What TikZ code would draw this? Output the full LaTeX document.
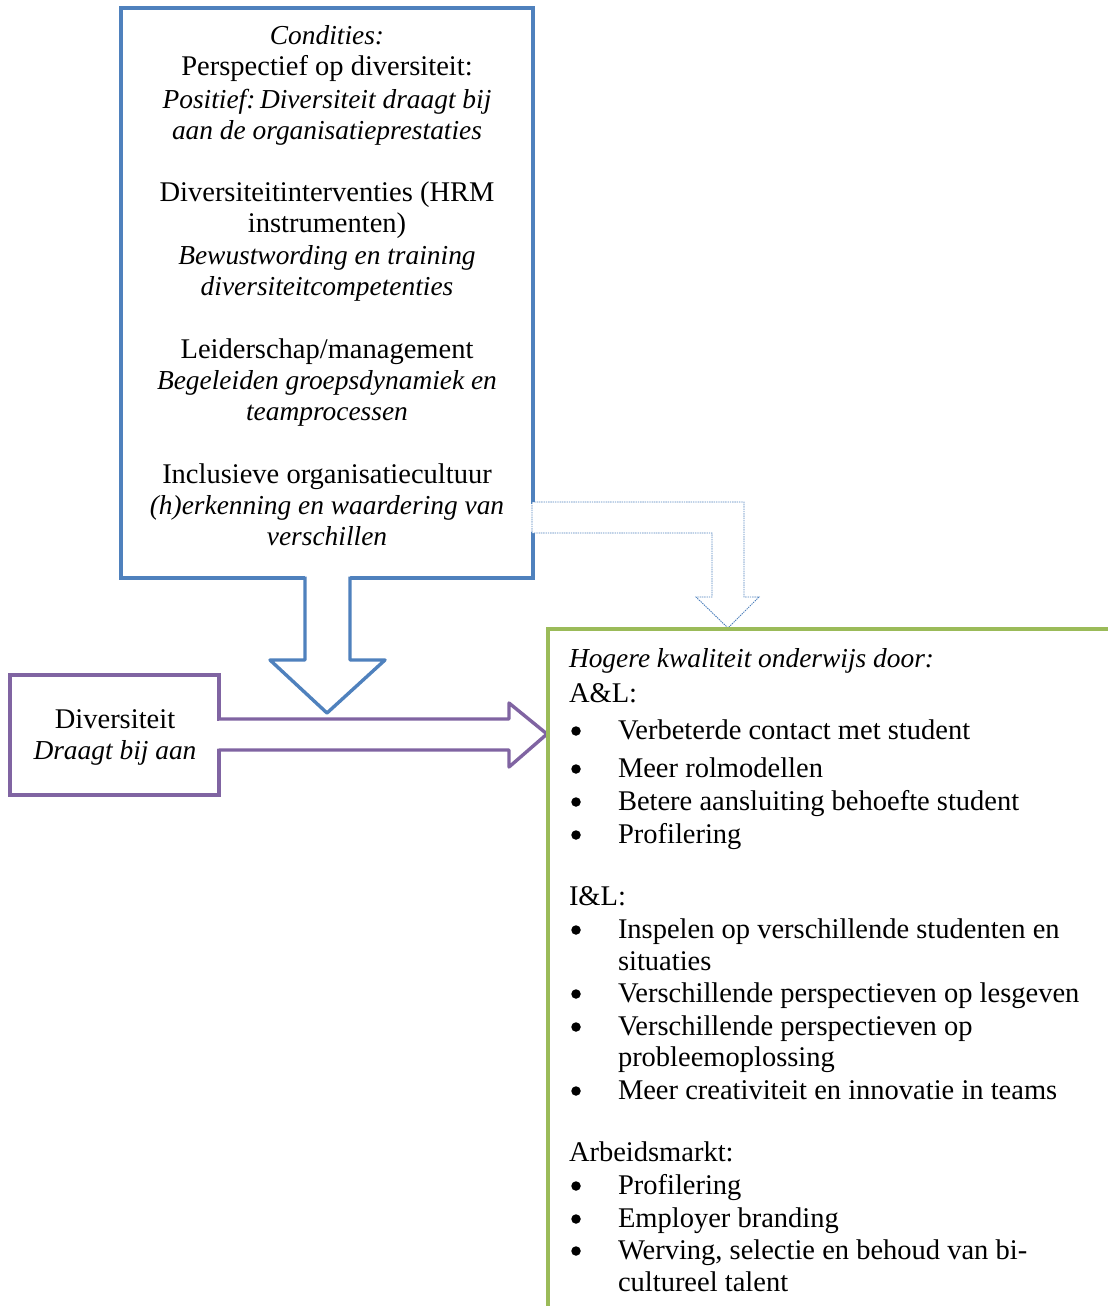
\documentclass[tikz,border=0pt]{standalone}
\usepackage{fontspec}
\setmainfont{Liberation Serif}
\definecolor{cblue}{HTML}{4F81BD}
\definecolor{cpurple}{HTML}{8064A2}
\definecolor{cgreen}{HTML}{9BBB59}
\begin{document}
\begin{tikzpicture}[x=1pt,y=-1pt,
  txt/.style={inner sep=0pt, outer sep=0pt, font=\fontsize{28.5}{31}\selectfont},
  ctr/.style={txt, anchor=base},
  lft/.style={txt, anchor=base west},
  it/.style={font=\fontsize{27.4}{31}\selectfont\itshape},
  bul/.style={circle, fill=black, minimum size=9.5pt, inner sep=0pt, outer sep=0pt},
  frame/.style={draw=#1, line width=3.4pt, fill=white, inner sep=0pt, outer sep=0pt, anchor=north west},
  blockarrow/.style={draw=#1, line width=3.4pt, line join=round},
  hintarrow/.style={draw=cblue, line width=0.9pt, dash pattern=on 1.4pt off 0.9pt, fill=white}]
\useasboundingbox (0,0) rectangle (1108,1306);

% conditions box
\node[frame=cblue, minimum width=412pt, minimum height=570pt] (cond) at (121,8) {};
\node[ctr, it] (c1) at (327,45) {Condities:};
\node[ctr] (c2) at (327,76) {Perspectief op diversiteit:};
\node[ctr, it] (c3) at (327,108) {Positief:\,Diversiteit draagt bij};
\node[ctr, it] (c4) at (327,139) {aan de organisatieprestaties};
\node[ctr] (c5) at (327,201) {Diversiteitinterventies (HRM};
\node[ctr] (c6) at (327,232) {instrumenten)};
\node[ctr, it] (c7) at (327,264) {Bewustwording en training};
\node[ctr, it] (c8) at (327,295) {diversiteitcompetenties};
\node[ctr] (c9) at (327,358) {Leiderschap/management};
\node[ctr, it] (c10) at (327,389) {Begeleiden groepsdynamiek en};
\node[ctr, it] (c11) at (327,420) {teamprocessen};
\node[ctr] (c12) at (327,483) {Inclusieve organisatiecultuur};
\node[ctr, it] (c13) at (327,514) {(h)erkenning en waardering van};
\node[ctr, it] (c14) at (327,545) {verschillen};

% thin bent arrow from the conditions box to the outcome box
\fill[white] (530,503.5) rectangle (536,532);
\draw[hintarrow] (532,502) -- (744,502) -- (744,597) -- (759,597) -- (728,628)
  -- (696,597) -- (712,597) -- (712,533) -- (532,533) -- cycle;

% block arrow down from the conditions box
\fill[white] (305,576) -- (305,660) -- (270,660) -- (327,713) -- (385,660) -- (350,660) -- (350,576) -- cycle;
\draw[blockarrow=cblue] (305,576.5) -- (305,660) -- (270,660) -- (327,713) -- (385,660) -- (350,660) -- (350,576.5);

% diversity box
\node[frame=cpurple, minimum width=209pt, minimum height=120pt] (div) at (10,675) {};
\node[ctr] (d1) at (115,728) {Diversiteit};
\node[ctr, it] (d2) at (115,759) {Draagt bij aan};

% block arrow right from the diversity box
\fill[white] (216,720.5) rectangle (222,748.5);
\fill[white] (219,719) -- (509,719) -- (509,703) -- (547,734) -- (509,767) -- (509,750) -- (219,750) -- cycle;
\draw[blockarrow=cpurple] (219,720.5) -- (219,719) -- (509,719) -- (509,703) -- (547,734) -- (509,767) -- (509,750) -- (219,750) -- (219,748.5);

% outcome box (runs past the page edges)
\coordinate (gtop) at (1108,629);
\coordinate (gbot) at (548,1306);
\draw[cgreen, line width=3.4pt] (gbot) -- (548,629) -- (gtop);

\node[lft, it] (h0) at (569,667) {Hogere kwaliteit onderwijs door:};
\node[lft] (h1) at (569,702) {A\&L:};
\node[bul] (b1) at (576,731) {}; \node[lft] (t1) at (618,739) {Verbeterde contact met student};
\node[bul] (b2) at (576,769) {}; \node[lft] (t2) at (618,777) {Meer rolmodellen};
\node[bul] (b3) at (576,802) {}; \node[lft] (t3) at (618,810) {Betere aansluiting behoefte student};
\node[bul] (b4) at (576,835) {}; \node[lft] (t4) at (618,843) {Profilering};
\node[lft] (h2) at (569,905) {I\&L:};
\node[bul] (b5) at (576,930) {}; \node[lft] (t5) at (618,938) {Inspelen op verschillende studenten en};
\node[lft] (t5b) at (618,970) {situaties};
\node[bul] (b6) at (576,994) {}; \node[lft] (t6) at (618,1002) {Verschillende perspectieven op lesgeven};
\node[bul] (b7) at (576,1027) {}; \node[lft] (t7) at (618,1035) {Verschillende perspectieven op};
\node[lft] (t7b) at (618,1066) {probleemoplossing};
\node[bul] (b8) at (576,1091) {}; \node[lft] (t8) at (618,1099) {Meer creativiteit en innovatie in teams};
\node[lft] (h3) at (569,1161) {Arbeidsmarkt:};
\node[bul] (b9) at (576,1186) {}; \node[lft] (t9) at (618,1194) {Profilering};
\node[bul] (b10) at (576,1219) {}; \node[lft] (t10) at (618,1227) {Employer branding};
\node[bul] (b11) at (576,1251) {}; \node[lft] (t11) at (618,1259) {Werving, selectie en behoud van bi-};
\node[lft] (t11b) at (618,1291) {cultureel talent};
\end{tikzpicture}
\end{document}
